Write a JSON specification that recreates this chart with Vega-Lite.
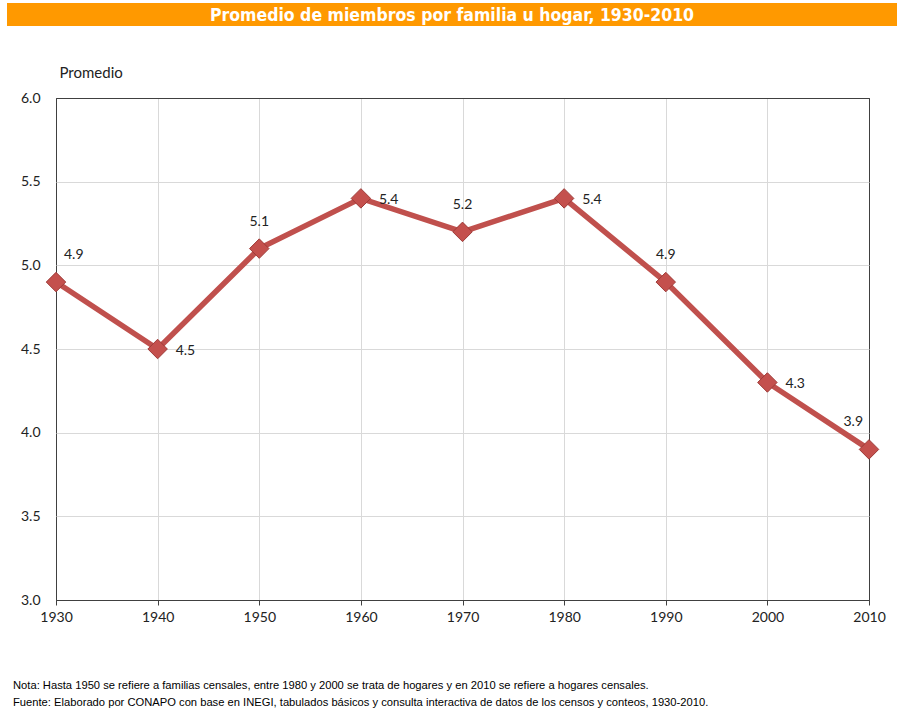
{
  "$schema": "https://vega.github.io/schema/vega-lite/v6.json",
  "padding": {"left": 7, "top": 3, "right": 2, "bottom": 6},
  "background": "white",
  "config": {"view": {"stroke": null}, "font": "Lato"},
  "datasets": {
    "hdr": [{"t": "Promedio de miembros por familia u hogar, 1930-2010"}],
    "d": [
      {"year": 1930, "v": 4.9},
      {"year": 1940, "v": 4.5},
      {"year": 1950, "v": 5.1},
      {"year": 1960, "v": 5.4},
      {"year": 1970, "v": 5.2},
      {"year": 1980, "v": 5.4},
      {"year": 1990, "v": 4.9},
      {"year": 2000, "v": 4.3},
      {"year": 2010, "v": 3.9}
    ]
  },
  "title": {
    "text": [
      "Nota: Hasta 1950 se refiere a familias censales, entre 1980 y 2000 se trata de hogares y en 2010 se refiere a hogares censales.",
      "Fuente: Elaborado por CONAPO con base en INEGI, tabulados básicos y consulta interactiva de datos de los censos y conteos, 1930-2010."
    ],
    "orient": "bottom",
    "anchor": "start",
    "frame": "bounds",
    "offset": 55,
    "dx": 6,
    "font": "Liberation Sans",
    "fontSize": 11.2,
    "fontWeight": "normal",
    "lineHeight": 17,
    "color": "#000000"
  },
  "spacing": 72,
  "bounds": "flush",
  "vconcat": [
    {
      "width": 890,
      "height": 23,
      "view": {"fill": "#FF9900", "stroke": null},
      "data": {"name": "hdr"},
      "mark": {"type": "text", "font": "DejaVu Sans Condensed", "fontWeight": "bold", "fontSize": 17.5, "color": "#FFFFFF", "baseline": "middle", "dy": 1},
      "encoding": {"text": {"field": "t"}}
    },
    {
      "spacing": 48,
      "bounds": "flush",
      "hconcat": [
        {
          "width": 1,
          "height": 502,
          "view": {"stroke": null},
          "data": {"values": [{}]},
          "mark": "text",
          "encoding": {"text": {"value": ""}}
        },
        {
          "width": 813,
          "height": 502,
          "view": {"stroke": "#404040", "strokeWidth": 1},
          "data": {"name": "d"},
          "encoding": {
            "x": {
              "field": "year", "type": "quantitative",
              "scale": {"domain": [1930, 2010], "nice": false, "zero": false},
              "axis": {
                "values": [1930, 1940, 1950, 1960, 1970, 1980, 1990, 2000, 2010],
                "format": "d", "title": null, "grid": true,
                "gridColor": {"condition": {"test": "datum.value == 1930 || datum.value == 2010", "value": "#404040"}, "value": "#d9d9d9"},
                "domain": false, "ticks": true, "tickColor": "#404040", "tickSize": 5,
                "labelFlush": false, "labelFont": "Lato", "labelFontSize": 14,
                "labelColor": "#222222", "labelPadding": 5
              }
            },
            "y": {
              "field": "v", "type": "quantitative",
              "scale": {"domain": [3, 6], "nice": false, "zero": false},
              "axis": {
                "values": [3, 3.5, 4, 4.5, 5, 5.5, 6],
                "format": ".1f", "grid": true,
                "gridColor": {"condition": {"test": "datum.value == 3 || datum.value == 6", "value": "#404040"}, "value": "#d9d9d9"},
                "domain": false, "ticks": false, "labelPadding": 16,
                "labelFont": "Lato", "labelFontSize": 14, "labelColor": "#222222",
                "title": "Promedio", "titleAngle": 0, "titleAlign": "left",
                "titleBaseline": "middle", "titleX": 3, "titleY": -26,
                "titleFont": "Lato", "titleFontSize": 15, "titleFontWeight": "normal",
                "titleColor": "#222222"
              }
            }
          },
          "layer": [
            {"mark": {"type": "line", "color": "#C0504D", "strokeWidth": 5.5}},
            {"mark": {"type": "point", "shape": "diamond", "filled": true, "size": 380, "color": "#C4504D", "stroke": "#9E3B38", "strokeWidth": 1, "opacity": 1}},
            {
              "transform": [{"filter": "indexof([1940, 1960, 1980, 2000], datum.year) >= 0"}],
              "mark": {"type": "text", "align": "left", "baseline": "middle", "dx": 18, "dy": 2, "font": "Lato", "fontSize": 14, "color": "#222222"},
              "encoding": {"text": {"field": "v", "type": "quantitative", "format": ".1f"}}
            },
            {
              "transform": [{"filter": "indexof([1950, 1970, 1990], datum.year) >= 0"}],
              "mark": {"type": "text", "align": "center", "baseline": "middle", "dy": -27, "font": "Lato", "fontSize": 14, "color": "#222222"},
              "encoding": {"text": {"field": "v", "type": "quantitative", "format": ".1f"}}
            },
            {
              "transform": [{"filter": "datum.year == 1930"}],
              "mark": {"type": "text", "align": "left", "baseline": "middle", "dx": 8, "dy": -27, "font": "Lato", "fontSize": 14, "color": "#222222"},
              "encoding": {"text": {"field": "v", "type": "quantitative", "format": ".1f"}}
            },
            {
              "transform": [{"filter": "datum.year == 2010"}],
              "mark": {"type": "text", "align": "right", "baseline": "middle", "dx": -6, "dy": -27, "font": "Lato", "fontSize": 14, "color": "#222222"},
              "encoding": {"text": {"field": "v", "type": "quantitative", "format": ".1f"}}
            }
          ]
        }
      ]
    }
  ]
}
